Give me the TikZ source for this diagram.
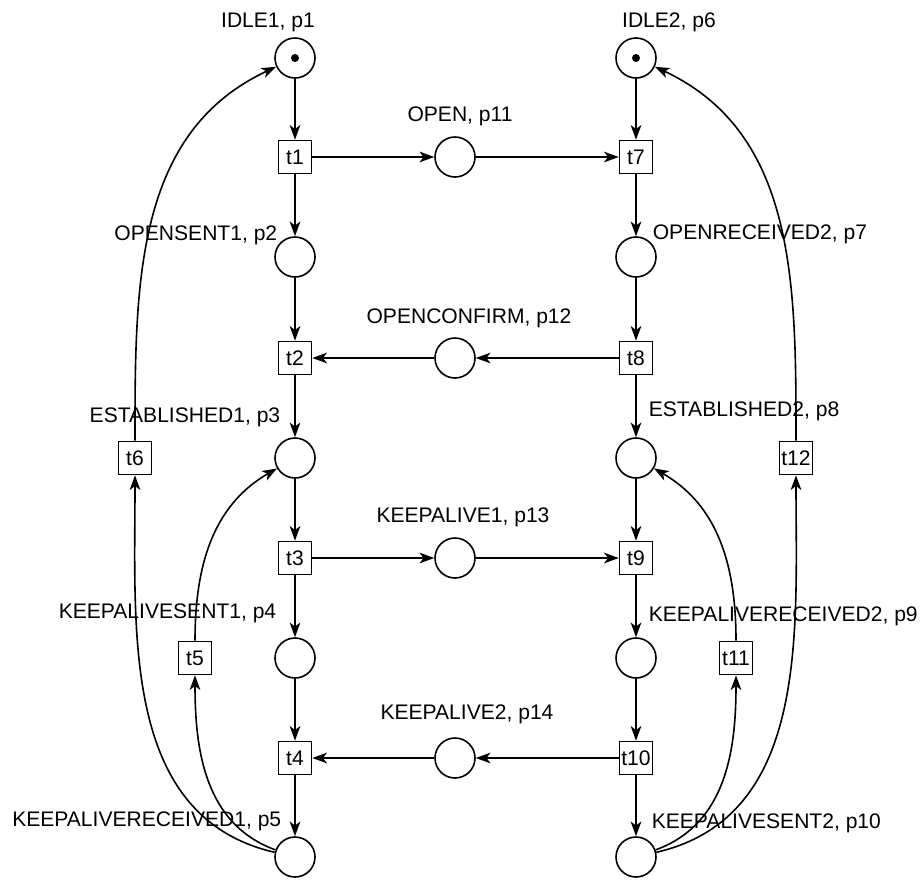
\documentclass[tikz,border=0pt]{standalone}
\usepackage{fontspec}
\setmainfont{Liberation Sans}
\usetikzlibrary{arrows.meta}

\tikzset{every picture/.style={line width=1.2pt}}
\tikzset{
  place/.style={circle, draw, minimum size=30pt, inner sep=0pt},
  trans/.style={rectangle, draw, minimum size=24.75pt, inner sep=0pt},
  lbl/.style={inner sep=0pt},
}

\begin{document}
\begin{tikzpicture}[x=0.75pt,y=0.75pt,yscale=-1,xscale=1,
  font=\fontsize{15.8}{19}\selectfont,
  >={Stealth[length=11pt,width=8pt,inset=3pt]}]
\useasboundingbox (0,0) rectangle (923,879);

%Places
\node [place] (p1) at (295,58) {};
\node [place] (p2) at (295,257) {};
\node [place] (p3) at (295,458) {};
\node [place] (p4) at (295,658) {};
\node [place] (p5) at (295,857) {};
\node [place] (p6) at (636,58) {};
\node [place] (p7) at (636,257) {};
\node [place] (p8) at (636,458) {};
\node [place] (p9) at (636,658) {};
\node [place] (p10) at (636,857) {};
\node [place] (p11) at (455,157) {};
\node [place] (p12) at (455,358) {};
\node [place] (p13) at (455,558) {};
\node [place] (p14) at (455,758) {};
%tokens
\fill (p1.center) circle (4);
\fill (p6.center) circle (4);

%Transitions
\node [trans] (t1) at (295,157) {t1};
\node [trans] (t2) at (295,358) {t2};
\node [trans] (t3) at (295,558) {t3};
\node [trans] (t4) at (295,758) {t4};
\node [trans] (t5) at (195,658) {t5};
\node [trans] (t6) at (135,458) {t6};
\node [trans] (t7) at (636,157) {t7};
\node [trans] (t8) at (636,358) {t8};
\node [trans] (t9) at (636,558) {t9};
\node [trans] (t10) at (636,758) {t10};
\node [trans] (t11) at (736,658) {t11};
\node [trans] (t12) at (796,458) {t12};

%Straight Lines
\draw [->] (p1) -- (t1);
\draw [->] (t1) -- (p2);
\draw [->] (p2) -- (t2);
\draw [->] (t2) -- (p3);
\draw [->] (p3) -- (t3);
\draw [->] (t3) -- (p4);
\draw [->] (p4) -- (t4);
\draw [->] (t4) -- (p5);
\draw [->] (p6) -- (t7);
\draw [->] (t7) -- (p7);
\draw [->] (p7) -- (t8);
\draw [->] (t8) -- (p8);
\draw [->] (p8) -- (t9);
\draw [->] (t9) -- (p9);
\draw [->] (p9) -- (t10);
\draw [->] (t10) -- (p10);
\draw [->] (t1) -- (p11);
\draw [->] (p11) -- (t7);
\draw [->] (t8) -- (p12);
\draw [->] (p12) -- (t2);
\draw [->] (t3) -- (p13);
\draw [->] (p13) -- (t9);
\draw [->] (t10) -- (p14);
\draw [->] (p14) -- (t4);

%Curve Lines (angles flipped, yscale=-1)
\draw [->] (t6.north) to [out=-90,in=155] (p1.205);
\draw [->] (p5.167) to [out=193,in=90] (t6.south);
\draw [->] (p5.160) to [out=200,in=90] (t5.south);
\draw [->] (t5.north) to [out=-90,in=150] (p3.210);
\draw [->] (t12.north) to [out=-90,in=25] (p6.335);
\draw [->] (p10.13) to [out=347,in=90] (t12.south);
\draw [->] (p10.20) to [out=340,in=90] (t11.south);
\draw [->] (t11.north) to [out=-90,in=30] (p8.330);

% Text Node
\node [lbl, anchor=base] (l1) at (268,27) {IDLE1, p1};
\node [lbl, anchor=base] (l6) at (669,27) {IDLE2, p6};
\node [lbl, anchor=base] (l11) at (460,121) {OPEN, p11};
\node [lbl, anchor=base] (l12) at (469,323) {OPENCONFIRM, p12};
\node [lbl, anchor=base] (l13) at (463,522) {KEEPALIVE1, p13};
\node [lbl, anchor=base] (l14) at (467,719) {KEEPALIVE2, p14};
\node [lbl, anchor=base east] (l2) at (278,240) {OPENSENT1, p2};
\node [lbl, anchor=base east] (l3) at (281,422) {ESTABLISHED1, p3};
\node [lbl, anchor=base east] (l4) at (277,618) {KEEPALIVESENT1, p4};
\node [lbl, anchor=base east] (l5) at (282,826) {KEEPALIVERECEIVED1, p5};
\node [lbl, anchor=base west] (l7) at (652,239) {OPENRECEIVED2, p7};
\node [lbl, anchor=base west] (l8) at (648,416) {ESTABLISHED2, p8};
\node [lbl, anchor=base west] (l9) at (648,621) {KEEPALIVERECEIVED2, p9};
\node [lbl, anchor=base west] (l10) at (651,828) {KEEPALIVESENT2, p10};

\end{tikzpicture}
\end{document}
